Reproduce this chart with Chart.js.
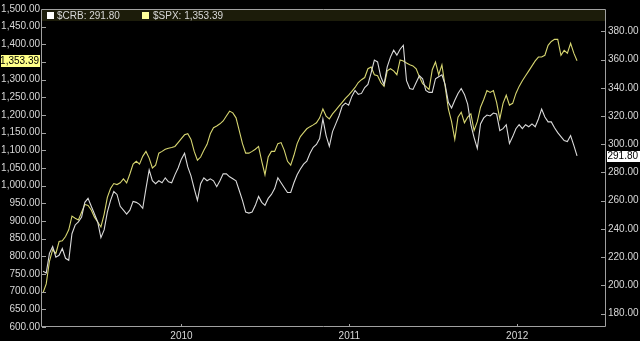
<!DOCTYPE html>
<html>
<head>
<meta charset="utf-8">
<script src="https://cdn.jsdelivr.net/npm/chart.js@4.4.1/dist/chart.umd.min.js"></script>
<style>
    html, body { margin: 0; padding: 0; background: #000; }
    #wrap { width: 640px; height: 341px; }
</style>
</head>
<body>
<div id="wrap"><canvas id="chart" width="640" height="341"></canvas></div>
<script>
// Weekly closes, first one on Friday 2009-03-06, last on 2012-05-11
const firstWeek = 2009.175;
const weekStep = 7 / 365.25;
const yearTicks = [2010, 2011, 2012];

const crb = [
    210.1, 208.7, 222.7, 227.5, 219.9, 221.3, 226.1, 219.2, 217.8, 236.6,
    242.8, 244.9, 248.4, 258.8, 261.6, 256.0, 250.5, 244.9, 233.8, 239.3,
    251.9, 260.2, 266.5, 264.4, 256.0, 253.3, 250.5, 253.3, 259.5, 258.8,
    257.4, 254.6, 268.6, 281.8, 274.1, 272.0, 274.1, 272.7, 276.2, 273.4,
    272.7, 278.3, 283.2, 289.4, 293.6, 283.9, 277.6, 268.6, 260.2, 272.0,
    276.2, 274.1, 275.5, 274.1, 269.9, 274.1, 279.0, 279.0, 276.9, 275.5,
    274.1, 267.2, 260.2, 251.9, 251.2, 251.9, 256.7, 263.0, 258.8, 256.7,
    261.6, 264.4, 268.6, 276.2, 272.7, 269.2, 265.8, 265.8, 272.7, 278.3,
    282.5, 285.9, 288.0, 293.6, 297.8, 299.8, 304.0, 317.9, 306.1, 298.5,
    308.9, 314.4, 320.0, 327.0, 329.1, 327.7, 333.9, 338.1, 335.3, 336.0,
    340.2, 342.3, 350.6, 359.6, 358.3, 347.8, 342.3, 354.8, 361.7, 366.6,
    363.1, 367.3, 370.1, 345.0, 339.5, 338.8, 343.7, 348.5, 346.4, 338.1,
    336.7, 336.7, 346.4, 347.8, 349.2, 342.3, 329.7, 325.6, 331.1, 336.0,
    339.5, 335.3, 328.4, 313.8, 304.7, 297.1, 314.4, 318.6, 320.7, 320.0,
    322.1, 321.4, 309.6, 311.0, 313.8, 300.5, 305.4, 311.0, 313.8, 311.0,
    313.8, 312.4, 314.4, 312.4, 317.9, 324.9, 319.3, 315.8, 315.8, 311.7,
    308.2, 305.4, 302.6, 301.9, 306.1, 299.2, 291.80
];

const spx = [
    697, 722, 786, 819, 808, 842, 844, 856, 875, 914,
    908, 903, 925, 947, 944, 931, 911, 897, 883, 919,
    967, 992, 1006, 1003, 1008, 1019, 1008, 1033, 1061, 1069,
    1061, 1083, 1097, 1078, 1050, 1058, 1092, 1097, 1103, 1106,
    1108, 1111, 1122, 1133, 1144, 1147, 1131, 1097, 1072, 1081,
    1100, 1117, 1147, 1164, 1169, 1175, 1183, 1197, 1211, 1206,
    1192, 1156, 1119, 1092, 1092, 1097, 1103, 1111, 1069, 1031,
    1081, 1097, 1097, 1119, 1122, 1100, 1069, 1058, 1086, 1119,
    1139, 1150, 1161, 1167, 1172, 1178, 1192, 1217, 1197, 1189,
    1203, 1214, 1225, 1236, 1247, 1256, 1267, 1278, 1292, 1300,
    1306, 1331, 1336, 1314, 1311, 1292, 1281, 1325, 1331, 1325,
    1314, 1356, 1353, 1347, 1342, 1339, 1331, 1308, 1289, 1281,
    1272, 1328, 1350, 1314, 1342, 1281, 1217, 1181, 1131, 1194,
    1208, 1178, 1194, 1203, 1156, 1181, 1222, 1244, 1269, 1264,
    1269, 1236, 1189, 1233, 1256, 1228, 1233, 1261, 1281, 1297,
    1311, 1325, 1339, 1353, 1364, 1364, 1369, 1397, 1408, 1414,
    1414, 1369, 1383, 1375, 1403, 1375, 1353.39
];

const crbLast = crb[crb.length - 1];
const spxLast = spx[spx.length - 1];

const fmt = v => v.toLocaleString('en-US', { minimumFractionDigits: 2, maximumFractionDigits: 2 });
const toPoints = arr => arr.map((v, i) => ({ x: firstWeek + i * weekStep, y: v }));

const axisColor = '#a0a0a0';
const labelColor = '#d8d8d8';
const font = { family: 'Liberation Sans, Arial, sans-serif', size: 10 };

// frame, inward tick marks, legend strip and last-value tags
const overlay = {
    id: 'overlay',
    afterDraw(chart) {
        const ctx = chart.ctx;
        const a = chart.chartArea;
        const yL = chart.scales.y, yR = chart.scales.y1, xs = chart.scales.x;
        ctx.save();

        // legend strip
        ctx.fillStyle = '#1c1c0a';
        ctx.fillRect(a.left, a.top, a.right - a.left, 12);

        ctx.strokeStyle = axisColor;
        ctx.lineWidth = 1;
        ctx.beginPath();
        ctx.moveTo(a.left - 0.5, a.top + 0.5);
        ctx.lineTo(a.right + 0.5, a.top + 0.5);
        ctx.lineTo(a.right + 0.5, a.bottom - 0.5);
        ctx.lineTo(a.left - 0.5, a.bottom - 0.5);
        ctx.closePath();
        ctx.stroke();

        ctx.beginPath();
        yL.ticks.forEach(t => {
            const py = Math.round(yL.getPixelForValue(t.value)) + 0.5;
            if (py < a.top + 13) return;
            ctx.moveTo(a.left, py);
            ctx.lineTo(a.left + 4, py);
        });
        yR.ticks.forEach(t => {
            const py = Math.round(yR.getPixelForValue(t.value)) + 0.5;
            ctx.moveTo(a.right - 4, py);
            ctx.lineTo(a.right, py);
        });
        xs.ticks.forEach(t => {
            const px = Math.round(xs.getPixelForValue(t.value)) + 0.5;
            ctx.moveTo(px, a.bottom - 1);
            ctx.lineTo(px, a.bottom - 3);
        });
        ctx.stroke();

        ctx.font = '10px ' + font.family;
        ctx.textBaseline = 'middle';

        // legend items
        ctx.fillStyle = '#ffffff';
        ctx.fillRect(a.left + 5, a.top + 3, 7, 7);
        ctx.fillStyle = labelColor;
        ctx.textAlign = 'left';
        ctx.fillText('$CRB: ' + fmt(crbLast), a.left + 15, a.top + 7);
        ctx.fillStyle = '#ffff99';
        ctx.fillRect(a.left + 100, a.top + 3, 7, 7);
        ctx.fillStyle = labelColor;
        ctx.fillText('$SPX: ' + fmt(spxLast), a.left + 111, a.top + 7);

        // last value tags on the axes
        const ly = Math.round(yL.getPixelForValue(spxLast));
        ctx.fillStyle = '#ffff88';
        ctx.fillRect(1, ly - 6, 39, 12);
        ctx.fillStyle = '#000';
        ctx.textAlign = 'right';
        ctx.fillText(fmt(spxLast), 39, ly + 0.5);

        const ry = Math.round(yR.getPixelForValue(crbLast));
        ctx.fillStyle = '#ffffff';
        ctx.fillRect(607, ry - 5, 33, 11);
        ctx.fillStyle = '#000';
        ctx.textAlign = 'left';
        ctx.fillText(fmt(crbLast), 607.5, ry + 0.5);

        ctx.restore();
    }
};

new Chart(document.getElementById('chart'), {
    type: 'line',
    data: {
        datasets: [
            {
                label: '$SPX',
                data: toPoints(spx),
                yAxisID: 'y',
                borderColor: '#d6d570',
                borderWidth: 1.1,
                pointRadius: 0,
                tension: 0,
                order: 2
            },
            {
                label: '$CRB',
                data: toPoints(crb),
                yAxisID: 'y1',
                borderColor: '#dadada',
                borderWidth: 1.1,
                pointRadius: 0,
                tension: 0,
                order: 1
            }
        ]
    },
    options: {
        responsive: false,
        animation: false,
        devicePixelRatio: 1,
        layout: { padding: { top: 3, left: 0, right: 0, bottom: 0 } },
        plugins: {
            legend: { display: false },
            tooltip: { enabled: false }
        },
        scales: {
            x: {
                type: 'linear',
                min: 2009.169,
                max: 2012.523,
                grid: { display: false, drawTicks: false },
                border: { display: false },
                ticks: {
                    color: labelColor,
                    font: font,
                    padding: 3,
                    maxRotation: 0,
                    callback: v => String(v)
                },
                afterBuildTicks: s => { s.ticks = yearTicks.map(v => ({ value: v })); },
                afterFit: s => { s.height = 14; }
            },
            y: {
                position: 'left',
                min: 600,
                max: 1500,
                grid: { display: false, drawTicks: false },
                border: { display: false },
                ticks: {
                    stepSize: 50,
                    color: labelColor,
                    font: font,
                    padding: 2,
                    callback: v => (v === 1350 ? '' : fmt(v))
                },
                afterFit: s => { s.width = 42; }
            },
            y1: {
                position: 'right',
                min: 170.5,
                max: 395.8,
                grid: { display: false, drawTicks: false },
                border: { display: false },
                ticks: {
                    stepSize: 20,
                    color: labelColor,
                    font: font,
                    padding: 3,
                    callback: v => fmt(v)
                },
                afterBuildTicks: s => { s.ticks = s.ticks.filter(t => t.value % 20 === 0); },
                afterFit: s => { s.width = 35; }
            }
        }
    },
    plugins: [overlay]
});
</script>
</body>
</html>
